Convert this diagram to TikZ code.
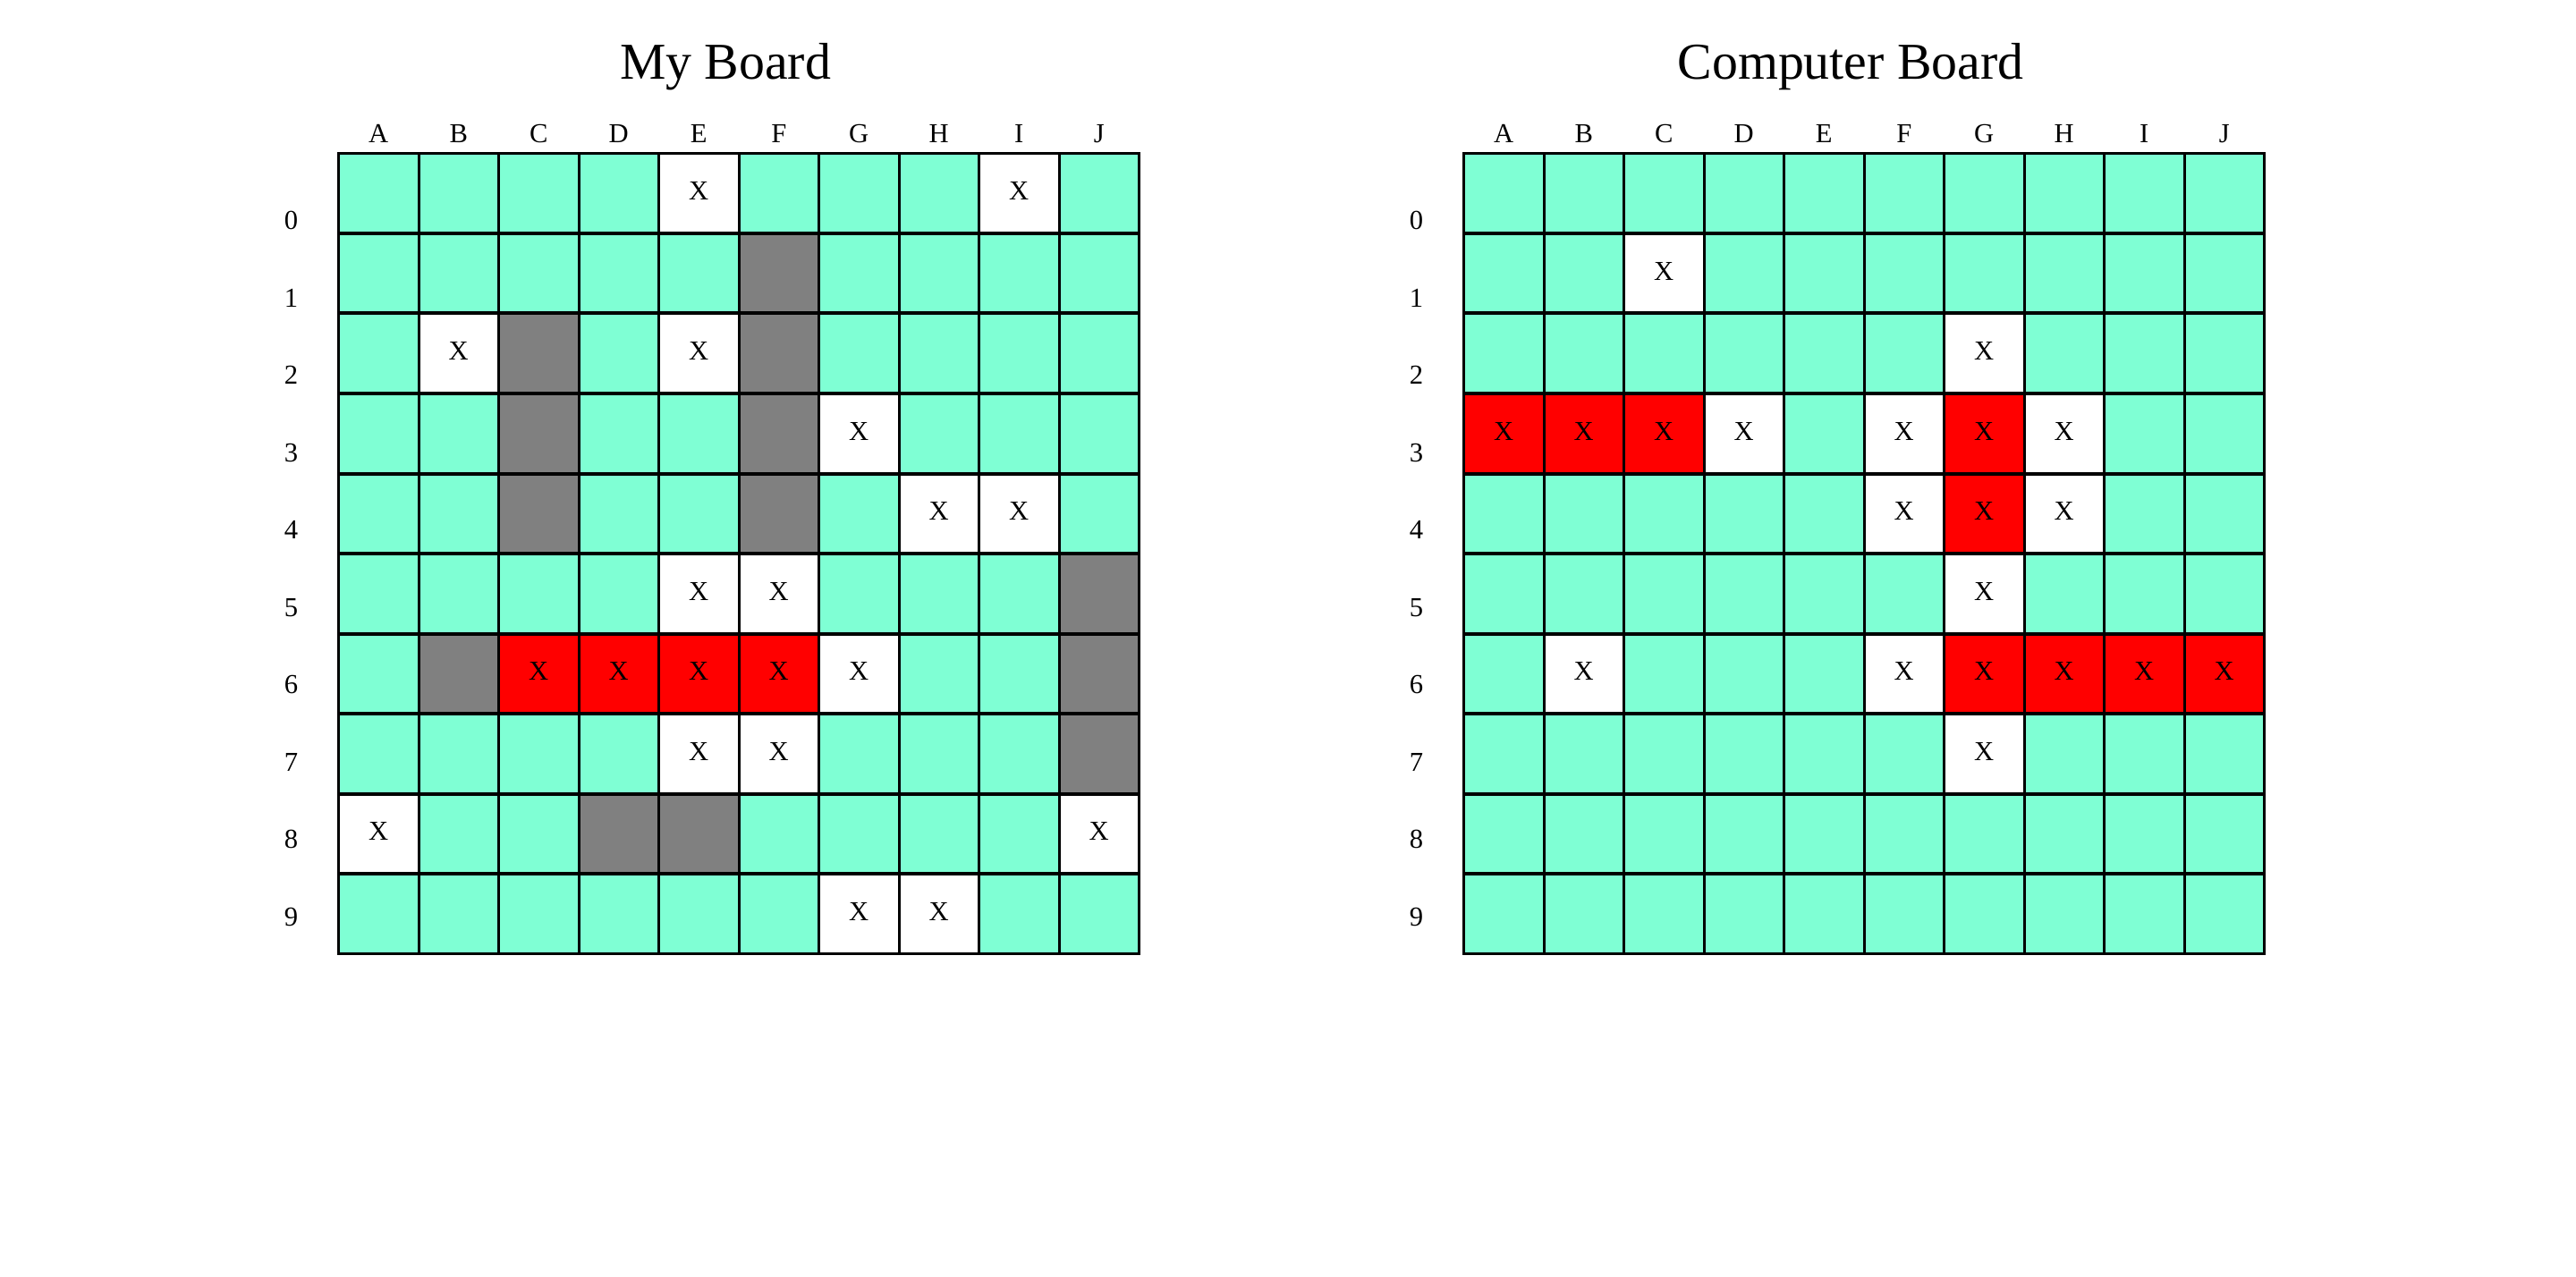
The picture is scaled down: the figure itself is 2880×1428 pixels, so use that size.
\documentclass[tikz,border=0pt]{standalone}
\usepackage{fontspec}
\setmainfont{Liberation Serif}
\definecolor{aqua}{HTML}{7FFFD4}
\definecolor{shipgray}{HTML}{808080}
\definecolor{hitred}{HTML}{FF0000}
\begin{document}
\begin{tikzpicture}[x=0.5pt,y=-0.5pt,
  titletext/.style={font=\fontsize{28.9}{34}\selectfont, anchor=base, inner sep=0pt},
  labeltext/.style={font=\fontsize{15.3}{18}\selectfont, anchor=base, inner sep=0pt},
  marktext/.style={font=\fontsize{15.3}{18}\selectfont, inner sep=0pt},
  outerline/.style={line width=1.2pt, black},
  vline/.style={line width=1.5pt, black},
  hline/.style={line width=2pt, black},
]
\useasboundingbox (0,0) rectangle (2880,1428);
\def\cs{89.5}
\def\gy{171.5}
% ---------------- My Board ----------------
\def\bx{378.5}
\node[titletext] (mytitle) at (\bx+447.5-15,88.5) {My Board};
\fill[aqua] (\bx,\gy) rectangle ++(895,895);
\foreach \c/\r in {5/1,2/2,5/2,2/3,5/3,2/4,5/4,9/5,1/6,9/6,9/7,3/8,4/8}
  \fill[shipgray] (\bx+\c*\cs,\gy+\r*\cs) rectangle ++(\cs,\cs);
\foreach \c/\r in {2/6,3/6,4/6,5/6}
  \fill[hitred] (\bx+\c*\cs,\gy+\r*\cs) rectangle ++(\cs,\cs);
\foreach \c/\r in {4/0,8/0,1/2,4/2,6/3,7/4,8/4,4/5,5/5,6/6,4/7,5/7,0/8,9/8,6/9,7/9}
  \fill[white] (\bx+\c*\cs,\gy+\r*\cs) rectangle ++(\cs,\cs);
\foreach \i in {1,...,9} {
  \draw[vline] (\bx+\i*\cs,\gy) -- (\bx+\i*\cs,\gy+895);
  \draw[hline] (\bx,\gy+\i*\cs) -- (\bx+895,\gy+\i*\cs);
}
\draw[outerline] (\bx,\gy) rectangle ++(895,895);
\foreach \c/\r in {2/6,3/6,4/6,5/6,4/0,8/0,1/2,4/2,6/3,7/4,8/4,4/5,5/5,6/6,4/7,5/7,0/8,9/8,6/9,7/9}
  \node[marktext] (my-\c-\r) at (\bx+\c*\cs+0.5*\cs,\gy+\r*\cs+0.5*\cs-2.5) {X};
\foreach \l [count=\i from 0] in {A,B,C,D,E,F,G,H,I,J}
  \node[labeltext] (my-col-\l) at (\bx+\i*\cs+0.5*\cs,159.3) {\l};
\foreach \r in {0,...,9}
  \node[labeltext] (my-row-\r) at (\bx-53,256.7+\r*86.5) {\r};
% ---------------- Computer Board ----------------
\def\bx{1636.5}
\node[titletext] (comptitle) at (\bx+447.5-15,88.5) {Computer Board};
\fill[aqua] (\bx,\gy) rectangle ++(895,895);
\foreach \c/\r in {0/3,1/3,2/3,6/3,6/4,6/6,7/6,8/6,9/6}
  \fill[hitred] (\bx+\c*\cs,\gy+\r*\cs) rectangle ++(\cs,\cs);
\foreach \c/\r in {2/1,6/2,3/3,5/3,7/3,5/4,7/4,6/5,1/6,5/6,6/7}
  \fill[white] (\bx+\c*\cs,\gy+\r*\cs) rectangle ++(\cs,\cs);
\foreach \i in {1,...,9} {
  \draw[vline] (\bx+\i*\cs,\gy) -- (\bx+\i*\cs,\gy+895);
  \draw[hline] (\bx,\gy+\i*\cs) -- (\bx+895,\gy+\i*\cs);
}
\draw[outerline] (\bx,\gy) rectangle ++(895,895);
\foreach \c/\r in {0/3,1/3,2/3,6/3,6/4,6/6,7/6,8/6,9/6,2/1,6/2,3/3,5/3,7/3,5/4,7/4,6/5,1/6,5/6,6/7}
  \node[marktext] (cp-\c-\r) at (\bx+\c*\cs+0.5*\cs,\gy+\r*\cs+0.5*\cs-2.5) {X};
\foreach \l [count=\i from 0] in {A,B,C,D,E,F,G,H,I,J}
  \node[labeltext] (cp-col-\l) at (\bx+\i*\cs+0.5*\cs,159.3) {\l};
\foreach \r in {0,...,9}
  \node[labeltext] (cp-row-\r) at (\bx-53,256.7+\r*86.5) {\r};
\end{tikzpicture}
\end{document}
